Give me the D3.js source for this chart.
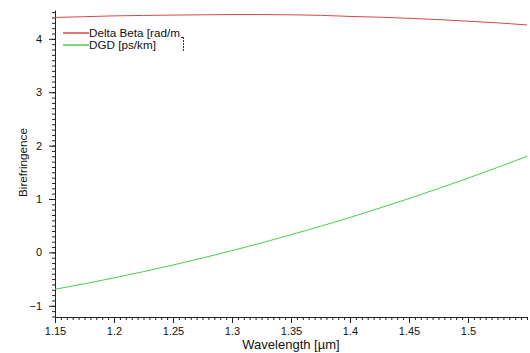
<!DOCTYPE html>
<html lang="en">
<head>
<meta charset="utf-8">
<title>Birefringence</title>
<script src="https://d3js.org/d3.v7.min.js"></script>
<style>
  body { margin: 0; background: #fff; }
  svg text { font-family: "Liberation Sans", Arial, sans-serif; fill: #111; }
  .axis path, .axis line { stroke: #222; }
</style>
</head>
<body>
<script>
// wavelength samples (µm)
const wavelength = [1.15, 1.175, 1.2, 1.225, 1.25, 1.275, 1.3, 1.325, 1.35,
                    1.375, 1.4, 1.425, 1.45, 1.475, 1.5, 1.525, 1.55];
// Delta Beta [rad/m]
const deltaBeta = [4.40, 4.415, 4.43, 4.438, 4.445, 4.45, 4.455, 4.455, 4.45,
                   4.44, 4.42, 4.405, 4.385, 4.36, 4.33, 4.30, 4.26];
// DGD [ps/km]
const dgd = [-0.69, -0.587, -0.477, -0.36, -0.236, -0.105, 0.033, 0.178, 0.33,
             0.489, 0.655, 0.829, 1.009, 1.196, 1.39, 1.592, 1.80];

const xTicks = [1.15, 1.2, 1.25, 1.3, 1.35, 1.4, 1.45, 1.5];
const yTicks = [-1, 0, 1, 2, 3, 4];
const seriesNames = ["Delta Beta [rad/m", "DGD [ps/km]"];
const seriesColors = ["#d84848", "#4ccc4c"];

const W = 530, H = 353;
const mLeft = 55, mRight = 527, mTop = 10, mBottom = 317;

const svg = d3.select("body").append("svg")
  .attr("width", W).attr("height", H);

const x = d3.scaleLinear().domain([1.15, 1.55]).range([mLeft, mRight]);
const y = d3.scaleLinear().domain([-1.21, 4.54]).range([mBottom, mTop]);

// minor ticks
const xMinor = d3.range(0, 81).map(i => 1.15 + i * 0.005);
const yMinor = d3.range(-12, 46).map(i => i / 10);

svg.append("g").attr("class", "axis")
  .attr("transform", `translate(0,${mBottom})`)
  .call(d3.axisBottom(x).tickValues(xMinor).tickSize(3).tickFormat(""))
  .call(g => g.select(".domain").remove());

svg.append("g").attr("class", "axis")
  .attr("transform", `translate(0,${mBottom})`)
  .call(d3.axisBottom(x).tickValues(xTicks).tickSize(6).tickSizeOuter(0).tickPadding(4).tickFormat(d => String(+d.toFixed(2))))
  .call(g => g.selectAll("text").attr("font-size", 11));

svg.append("g").attr("class", "axis")
  .attr("transform", `translate(${mLeft},0)`)
  .call(d3.axisLeft(y).tickValues(yMinor).tickSize(3).tickFormat(""))
  .call(g => g.select(".domain").remove());

svg.append("g").attr("class", "axis")
  .attr("transform", `translate(${mLeft},0)`)
  .call(d3.axisLeft(y).tickValues(yTicks).tickSize(6).tickSizeOuter(0).tickPadding(7).tickFormat(d3.format("d")))
  .call(g => g.selectAll("text").attr("font-size", 11));

// lines
const series = [deltaBeta, dgd];
series.forEach((vals, i) => {
  svg.append("path")
    .datum(vals)
    .attr("fill", "none")
    .attr("stroke", seriesColors[i])
    .attr("stroke-width", 1)
    .attr("d", d3.line().x((d, j) => x(wavelength[j])).y(d => y(d)).curve(d3.curveMonotoneX));
});

// axis titles
svg.append("text")
  .attr("x", (mLeft + mRight) / 2).attr("y", 349)
  .attr("text-anchor", "middle").attr("font-size", 13)
  .text("Wavelength [µm]");

svg.append("text")
  .attr("transform", `translate(27,${(mTop + mBottom) / 2 - 1}) rotate(-90)`)
  .attr("text-anchor", "middle").attr("font-size", 11.7)
  .text("Birefringence");

// legend
seriesNames.forEach((name, i) => {
  const ly = 33 + i * 12;
  svg.append("line")
    .attr("x1", 63).attr("x2", 89).attr("y1", ly).attr("y2", ly)
    .attr("stroke", seriesColors[i]).attr("stroke-width", 1.5);
  svg.append("text")
    .attr("x", 89).attr("y", ly + 4)
    .attr("font-size", 11.7)
    .text(name);
});
// cursor-like bracket at the legend edge
svg.append("line")
  .attr("x1", 183.5).attr("x2", 183.5).attr("y1", 37).attr("y2", 51)
  .attr("stroke", "#333").attr("stroke-dasharray", "2,1");
svg.append("line")
  .attr("x1", 181).attr("x2", 184).attr("y1", 37.5).attr("y2", 37.5)
  .attr("stroke", "#333");
</script>
</body>
</html>
